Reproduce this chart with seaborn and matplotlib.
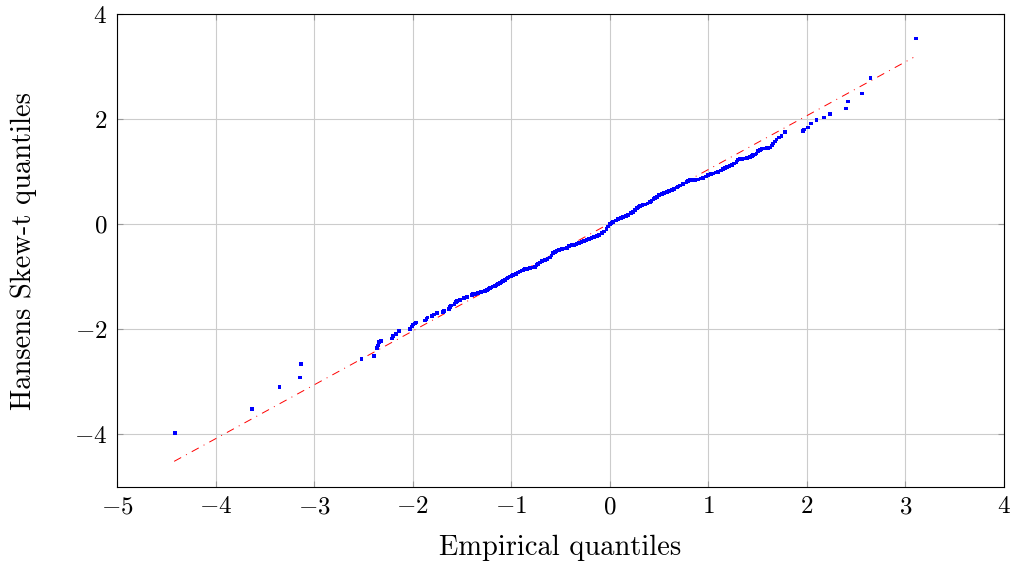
import matplotlib
matplotlib.use("Agg")
import matplotlib.pyplot as plt
import seaborn as sns
import pandas as pd

# Empirical quantiles (x) and Hansen skew-t quantiles (y)
emp_q = [-4.41, -3.63, -3.35, -3.14, -3.13, -2.52, -2.39, -2.365, -2.355, -2.34, -2.32,
         -2.21, -2.20, -2.17, -2.14, -2.024, -2.007, -1.994, -1.979, -1.963,
         -1.872, -1.858, -1.848, -1.807, -1.784, -1.756, -1.695, -1.682, -1.634,
         -1.621, -1.608, -1.574, -1.560, -1.547, -1.520, -1.479, -1.452, -1.401,
         -1.391, -1.368, -1.334, -1.324, -1.284, -1.243, -1.216, -1.182, -1.148,
         -1.114, -1.080, -1.046, -1.013, -0.979, -0.928, -0.894, -0.860, -0.810,
         -0.759, -0.725, -0.691, -0.657, -0.607, -0.573, -0.539, -0.488, -0.437,
         -0.387, -0.336, -0.286, -0.235, -0.184, -0.133, -0.082, -0.032, 0.002,
         0.036, 0.086, 0.137, 0.188, 0.238, 0.273, 0.307, 0.357, 0.408, 0.442,
         0.476, 0.527, 0.578, 0.629, 0.679, 0.712, 0.780, 0.814, 0.864, 0.898,
         0.949, 0.999, 1.050, 1.101, 1.152, 1.192, 1.237, 1.287, 1.304, 1.340,
         1.389, 1.422, 1.440, 1.473, 1.490, 1.507, 1.541, 1.592, 1.610, 1.625,
         1.643, 1.659, 1.676, 1.693, 1.720, 1.744, 1.778, 1.963, 1.970, 2.008,
         2.041, 2.099, 2.173, 2.234, 2.396, 2.414, 2.562, 2.647, 3.106]
skewt_q = [-3.98, -3.52, -3.10, -2.92, -2.67, -2.57, -2.51, -2.36, -2.31, -2.25, -2.22,
           -2.18, -2.13, -2.09, -2.04, -2.00, -1.95, -1.91, -1.89, -1.87,
           -1.836, -1.80, -1.78, -1.747, -1.72, -1.695, -1.67, -1.65, -1.62,
           -1.58, -1.55, -1.518, -1.48, -1.46, -1.44, -1.41, -1.385, -1.347,
           -1.328, -1.33, -1.314, -1.303, -1.284, -1.251, -1.219, -1.189, -1.162,
           -1.124, -1.080, -1.036, -0.998, -0.966, -0.922, -0.884, -0.857, -0.838,
           -0.808, -0.756, -0.705, -0.680, -0.636, -0.552, -0.509, -0.476, -0.446,
           -0.400, -0.375, -0.337, -0.299, -0.261, -0.223, -0.172, -0.095, 0.0,
           0.050, 0.095, 0.133, 0.177, 0.240, 0.305, 0.349, 0.380, 0.420, 0.476,
           0.526, 0.580, 0.615, 0.653, 0.700, 0.740, 0.800, 0.844, 0.850, 0.857,
           0.888, 0.939, 0.971, 1.002, 1.048, 1.086, 1.130, 1.192, 1.238, 1.250,
           1.263, 1.288, 1.301, 1.330, 1.352, 1.400, 1.430, 1.460, 1.460, 1.467,
           1.500, 1.543, 1.581, 1.619, 1.657, 1.682, 1.758, 1.783, 1.810, 1.848,
           1.924, 1.987, 2.038, 2.101, 2.210, 2.343, 2.495, 2.795, 3.543]

# Additional readings from the dense central band
emp_q_dense = [-1.384, -1.350, -1.304, -1.264, -1.230, -1.199, -1.165, -1.131, -1.097,
               -1.063, -1.030, -0.996, -0.954, -0.911, -0.877, -0.835, -0.784, -0.742,
               -0.708, -0.674, -0.632, -0.590, -0.556, -0.514, -0.462, -0.412,
               -0.361, -0.311, -0.260, -0.210, -0.158, -0.107, -0.057, -0.015, 0.019,
               0.061, 0.112, 0.162, 0.213, 0.255, 0.290, 0.332, 0.383, 0.425, 0.459,
               0.501, 0.552, 0.603, 0.654, 0.695, 0.745, 0.797, 0.839, 0.881, 0.924,
               0.974, 1.025, 1.075, 1.126, 1.172, 1.215, 1.262, 1.296, 1.322, 1.365,
               1.406, 1.456, 1.525, 1.567]
skewt_q_dense = [-1.339, -1.322, -1.294, -1.268, -1.235, -1.204, -1.176, -1.143, -1.102,
                 -1.058, -1.017, -0.982, -0.944, -0.903, -0.870, -0.848, -0.823, -0.782,
                 -0.730, -0.693, -0.658, -0.594, -0.530, -0.492, -0.461, -0.420,
                 -0.395, -0.356, -0.318, -0.280, -0.242, -0.200, -0.135, -0.045, 0.028,
                 0.075, 0.115, 0.155, 0.210, 0.275, 0.330, 0.365, 0.398, 0.448, 0.503,
                 0.553, 0.598, 0.634, 0.676, 0.720, 0.770, 0.822, 0.846, 0.853, 0.872,
                 0.913, 0.955, 0.986, 1.025, 1.067, 1.108, 1.160, 1.215, 1.244, 1.256,
                 1.275, 1.315, 1.415, 1.448]

# Reference (fit) line endpoints
ref_x = [-4.42, 3.08]
ref_y = [-4.52, 3.18]

x_ticks = [-5, -4, -3, -2, -1, 0, 1, 2, 3, 4]
y_ticks = [-4, -2, 0, 2, 4]

sns.set_theme(style="white")
plt.rcParams["font.family"] = ["cmr10"]
plt.rcParams["mathtext.fontset"] = "cm"
plt.rcParams["axes.formatter.use_mathtext"] = True
plt.rcParams["axes.unicode_minus"] = True
plt.rcParams["text.color"] = "black"
plt.rcParams["axes.labelcolor"] = "black"

fig = plt.figure(figsize=(10.12, 5.62), dpi=100)
ax = fig.add_axes([0.1156, 0.1343, 0.8765, 0.8399])

pts = pd.DataFrame({"emp": emp_q + emp_q_dense, "skt": skewt_q + skewt_q_dense})
ref = pd.DataFrame({"x": ref_x, "y": ref_y})

sns.lineplot(data=ref, x="x", y="y", ax=ax, color="#ff0000", lw=0.7,
             linestyle=(0, (8.2, 5.7, 1.0, 5.7)), zorder=2)
sns.scatterplot(data=pts, x="emp", y="skt", ax=ax, color="#0000ff", marker="s",
                s=7, linewidth=0, edgecolor="none", zorder=3)

ax.set_xlim(-5, 4)
ax.set_ylim(-5, 4)
ax.set_xticks(x_ticks)
ax.set_yticks(y_ticks)
ax.grid(True, color="#cccccc", lw=0.8)
ax.set_axisbelow(True)
for sp in ax.spines.values():
    sp.set_color("black")
    sp.set_linewidth(0.8)
ax.tick_params(direction="in", length=4, width=0.8, color="#999999",
               top=True, right=True, bottom=True, left=True,
               labelsize=18, labelcolor="black", pad=7)
ax.set_xlabel("Empirical quantiles", fontsize=20.5, labelpad=12, color="black")
ax.set_ylabel("Hansens Skew-t quantiles", fontsize=20.5, labelpad=27, color="black")

fig.savefig("out.png", dpi=100)
